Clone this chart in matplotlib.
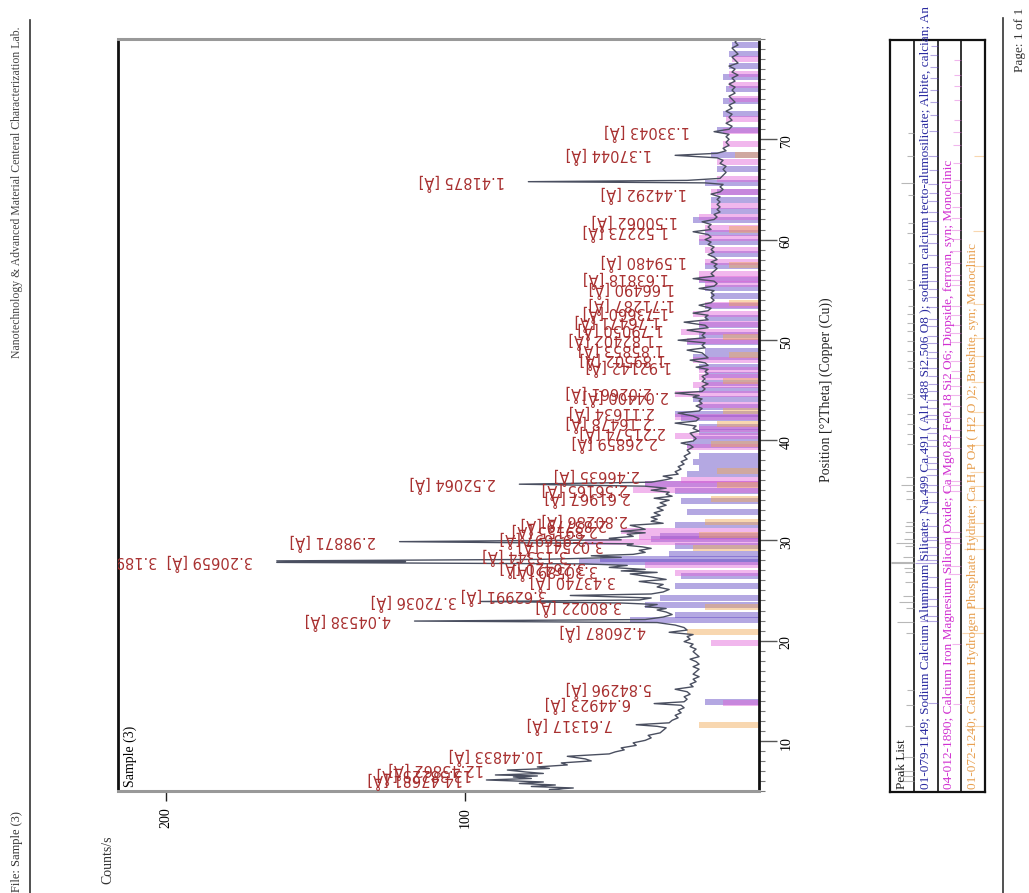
import matplotlib
matplotlib.use('Agg')
import matplotlib.pyplot as plt
from matplotlib.lines import Line2D
from matplotlib.ticker import MultipleLocator, FixedLocator

W, H = 1029, 893

# measured scan (2theta, counts)
scan_2theta = [
    5.00, 5.15, 5.30, 5.45, 5.60, 5.75, 5.90, 6.10, 6.25, 6.40, 6.50, 6.60, 6.75, 6.90, 7.09, 7.25,
    7.40, 7.60, 7.80, 8.00, 8.20, 8.46, 8.70, 8.90, 9.10, 9.30, 9.55, 9.80, 10.05, 10.30, 10.55, 10.80,
    11.05, 11.30, 11.45, 11.61, 11.80, 12.05, 12.30, 12.55, 12.80, 13.05, 13.30, 13.55, 13.72, 13.90,
    14.15, 14.40, 14.65, 14.90, 15.15, 15.40, 15.65, 15.90, 16.15, 16.40, 16.65, 16.90, 17.15, 17.40,
    17.65, 17.90, 18.15, 18.40, 18.65, 18.90, 19.15, 19.40, 19.65, 19.90, 20.15, 20.40, 20.60, 20.83,
    21.05, 21.30, 21.55, 21.80, 21.95, 22.10, 22.35, 22.60, 22.85, 23.05, 23.20, 23.39, 23.60, 23.75,
    23.90, 24.05, 24.25, 24.50, 24.65, 24.85, 25.10, 25.35, 25.60, 25.90, 26.10, 26.35, 26.65, 26.80,
    26.95, 27.10, 27.30, 27.50, 27.65, 27.80, 27.88, 27.95, 28.10, 28.30, 28.46, 28.60, 28.80, 29.00,
    29.20, 29.35, 29.50, 29.65, 29.87, 30.05, 30.20, 30.40, 30.60, 30.75, 30.90, 31.10, 31.30, 31.50,
    31.70, 31.90, 32.10, 32.30, 32.50, 32.75, 33.00, 33.25, 33.50, 33.75, 34.00, 34.20, 34.40, 34.60,
    34.80, 35.00, 35.20, 35.40, 35.60, 35.80, 36.05, 36.20, 36.40, 36.60, 36.85, 37.10, 37.35, 37.60,
    37.85, 38.10, 38.40, 38.70, 39.00, 39.30, 39.50, 39.70, 39.90, 40.15, 40.40, 40.69, 40.90, 41.15,
    41.40, 41.69, 41.90, 42.15, 42.40, 42.69, 42.90, 43.15, 43.40, 43.65, 43.90, 44.10, 44.28, 44.45,
    44.68, 44.85, 45.10, 45.35, 45.60, 45.85, 46.10, 46.35, 46.60, 46.85, 47.05, 47.27, 47.45, 47.70,
    47.97, 48.20, 48.45, 48.70, 48.97, 49.20, 49.45, 49.70, 49.96, 50.20, 50.45, 50.70, 50.96, 51.20,
    51.45, 51.76, 52.00, 52.25, 52.45, 52.66, 52.90, 53.15, 53.45, 53.70, 53.95, 54.20, 54.45, 54.70,
    54.90, 55.12, 55.35, 55.60, 55.85, 56.10, 56.35, 56.60, 56.85, 57.10, 57.35, 57.55, 57.76, 58.00,
    58.25, 58.50, 58.75, 59.00, 59.25, 59.50, 59.75, 60.00, 60.25, 60.50, 60.78, 61.00, 61.25, 61.50,
    61.77, 62.00, 62.25, 62.50, 62.75, 63.00, 63.25, 63.50, 63.75, 64.00, 64.25, 64.53, 64.75, 65.00,
    65.25, 65.50, 65.65, 65.77, 65.90, 66.10, 66.40, 66.70, 67.00, 67.30, 67.60, 67.90, 68.15, 68.40,
    68.60, 68.85, 69.10, 69.40, 69.70, 70.00, 70.25, 70.50, 70.76, 71.00, 71.30, 71.60, 71.90, 72.20,
    72.50, 72.80, 73.10, 73.40, 73.70, 74.00, 74.30, 74.60, 74.90, 75.20, 75.50, 75.80, 76.10, 76.40,
    76.70, 77.00, 77.30, 77.60, 77.90, 78.20, 78.50, 78.80, 79.10, 79.40, 79.70, 80.00,
]
scan_counts = [
    66, 72, 64, 78, 70, 82, 74, 93, 78, 84, 76, 90, 74, 80, 86, 72,
    76, 66, 68, 58, 60, 66, 52, 50, 47, 48, 43, 44, 40, 38, 39, 35,
    34, 33, 36, 43, 32, 31, 29, 30, 28, 29, 27, 28, 37, 27,
    26, 27, 25, 26, 30, 24, 25, 23, 24, 22, 24, 23, 22, 24,
    22, 23, 25, 22, 23, 24, 23, 25, 24, 27, 25, 26, 24, 32,
    26, 27, 30, 36, 117, 40, 34, 31, 33, 36, 33, 40, 36, 48,
    95, 42, 38, 65, 38, 34, 32, 36, 34, 42, 33, 38, 45, 36,
    48, 40, 52, 46, 60, 163, 120, 163, 75, 48, 58, 44, 40, 42,
    38, 41, 46, 44, 122, 48, 52, 44, 46, 40, 48, 40, 42, 45,
    34, 38, 36, 38, 35, 37, 34, 36, 33, 35, 32, 37, 31, 33,
    32, 38, 33, 40, 82, 38, 33, 31, 34, 29, 30, 28, 29, 27,
    28, 26, 27, 25, 26, 24, 25, 28, 24, 23, 24, 25, 22, 24,
    23, 30, 23, 22, 24, 29, 22, 21, 23, 21, 22, 21, 24, 22,
    30, 21, 20, 21, 19, 21, 20, 21, 19, 20, 19, 23, 19, 20,
    25, 19, 20, 21, 26, 20, 21, 20, 29, 20, 21, 20, 26, 19,
    20, 27, 19, 20, 19, 24, 19, 18, 22, 18, 17, 18, 17, 18,
    17, 22, 17, 16, 17, 24, 17, 18, 17, 16, 17, 16, 18, 16,
    17, 19, 17, 18, 17, 19, 18, 20, 18, 19, 24, 18, 19, 18,
    21, 17, 16, 17, 15, 16, 15, 16, 15, 16, 15, 18, 15, 14,
    15, 14, 20, 79, 26, 15, 14, 13, 14, 13, 15, 14, 16, 30,
    16, 13, 14, 12, 13, 12, 13, 12, 17, 12, 11, 13, 11, 12,
    11, 13, 11, 12, 10, 11, 12, 10, 11, 10, 12, 10, 11, 9,
    11, 10, 12, 9, 10, 11, 9, 10, 11, 9, 10, 9,
]

# labelled peaks: position, peak top, d-spacing label
peak_2theta = [6.10, 6.60, 7.09, 8.46, 11.61, 13.72, 15.15, 20.83, 21.95, 23.39, 23.90, 24.50,
               25.90, 26.95, 27.30, 27.80, 27.95, 28.46, 29.50, 29.87, 30.20, 30.90, 31.50, 31.90,
               34.20, 35.00, 35.60, 36.40, 39.70, 40.69, 41.69, 42.69, 44.28, 44.68, 47.27, 47.97,
               48.97, 49.96, 50.96, 51.76, 52.66, 53.45, 55.12, 56.10, 57.76, 60.78, 61.77, 64.53,
               65.77, 68.40, 70.76]
peak_counts = [93, 90, 86, 66, 43, 37, 30, 32, 117, 40, 95, 65,
               42, 48, 52, 163, 163, 58, 46, 122, 52, 48, 45, 38,
               37, 38, 82, 34, 28, 25, 30, 29, 24, 30, 23, 25,
               26, 29, 26, 27, 24, 22, 22, 24, 18, 24, 21, 18,
               79, 30, 17]
peak_labels = ['14.47681', '13.38225', '12.45862', '10.44833', '7.61317', '6.44923', '5.84296',
               '4.26087', '4.04538', '3.80022', '3.72036', '3.62991', '3.43740', '3.30589',
               '3.26420', '3.20659', '3.18963', '3.13344', '3.02541', '2.98871', '2.95697',
               '2.89155', '2.83779', '2.80286', '2.61967', '2.56165', '2.52064', '2.46635',
               '2.26859', '2.21574', '2.16478', '2.11634', '2.04400', '2.02661', '1.92142',
               '1.89502', '1.85853', '1.82402', '1.79050', '1.76471', '1.73660', '1.71287',
               '1.66490', '1.63818', '1.59480', '1.52273', '1.50062', '1.44292', '1.41875',
               '1.37044', '1.33043']

# reference patterns
albite_2theta = [13.88, 22.04, 22.60, 23.58, 24.28, 25.42, 26.40, 27.88, 28.10, 28.62,
                 29.44, 30.14, 30.44, 31.50, 32.80, 33.90, 34.94, 35.60, 36.62, 37.20,
                 37.80, 38.40, 39.52, 40.10, 40.80, 41.30, 42.20, 42.62, 43.30, 44.10,
                 45.00, 45.70, 46.50, 47.30, 48.30, 48.90, 49.80, 50.50, 51.50, 52.20,
                 53.40, 54.40, 55.20, 56.00, 57.40, 58.60, 59.80, 60.70, 61.90, 62.80,
                 63.90, 64.70, 65.60, 67.00, 68.40, 70.90, 72.50, 73.80, 75.00, 76.20,
                 77.30, 78.50, 79.40]
albite_counts = [20, 45, 30, 40, 35, 30, 28, 62, 55, 32,
                 30, 38, 35, 30, 26, 28, 30, 40, 26, 22,
                 24, 22, 26, 24, 22, 22, 28, 30, 22, 24,
                 22, 20, 20, 22, 24, 20, 26, 22, 22, 20,
                 20, 18, 20, 22, 20, 18, 22, 20, 24, 18,
                 18, 16, 20, 16, 18, 16, 14, 14, 13, 14,
                 12, 12, 11]
diopside_2theta = [13.80, 19.80, 26.70, 27.50, 29.86, 30.30, 30.90, 35.00, 35.60, 36.00,
                   39.30, 40.40, 41.10, 42.30, 43.50, 44.60, 45.50, 46.30, 47.00, 48.00,
                   49.90, 50.80, 51.60, 52.60, 53.50, 55.60, 56.10, 56.60, 57.80, 59.00,
                   60.20, 61.10, 62.20, 63.30, 64.70, 66.00, 67.70, 69.50, 70.80, 72.00,
                   74.00, 75.40, 76.50, 78.00]
diopside_counts = [14, 18, 30, 40, 60, 42, 48, 44, 40, 28,
                   26, 30, 22, 30, 22, 30, 24, 22, 22, 24,
                   26, 28, 22, 24, 20, 20, 22, 22, 20, 20,
                   22, 20, 22, 18, 18, 16, 16, 14, 14, 13,
                   12, 12, 12, 11]
brushite_2theta = [11.60, 20.90, 23.40, 29.26, 30.50, 31.80, 34.10, 35.50, 36.90, 39.60, 41.60, 42.90,
                   45.90, 48.50, 50.30, 53.70, 57.50, 61.00, 68.40]
brushite_counts = [22, 26, 20, 24, 22, 20, 18, 16, 16, 18, 16, 14,
                   14, 12, 14, 12, 12, 12, 10]

row_texts = [
    'Peak List',
    '01-079-1149; Sodium Calcium Aluminum Silicate; Na.499 Ca.491 ( Al1.488 Si2.506 O8 ); '
    'sodium calcium tecto-alumosilicate; Albite, calcian; An',
    '04-012-1890; Calcium Iron Magnesium Silicon Oxide; Ca Mg0.82 Fe0.18 Si2 O6; Diopside, ferroan, syn; Monoclinic',
    '01-072-1240; Calcium Hydrogen Phosphate Hydrate; Ca H P O4 ( H2 O )2; Brushite, syn; Monoclinic',
]
row_colors = ['#222222', '#2a2aa0', '#d030d0', '#e8a050']
bar_colors = ['#5a3fc0', '#e060d8', '#f0a850']

SERIF = 'Liberation Serif'


def fx(px):
    return px / W


def fy(py):
    return 1 - py / H


fig = plt.figure(figsize=(W / 100, H / 100), dpi=100)

# main pattern axes (page is turned: counts run to the left, 2theta upward)
ax = fig.add_axes([fx(118), fy(791), (759 - 118) / W, (791 - 39) / H])
ax.set_xlim(216, 2)
ax.set_ylim(5, 80)

phases = [(albite_2theta, albite_counts), (diopside_2theta, diopside_counts),
          (brushite_2theta, brushite_counts)]
for (pos, cnt), col in zip(phases, bar_colors):
    ax.barh(pos, cnt, height=0.6, left=0, color=col, alpha=0.45, linewidth=0, zorder=1)

ax.plot(scan_counts, scan_2theta, color='#4a4f60', lw=1.0, zorder=2)

# group labels of peaks that sit on top of each other
groups = []
for pos, cnt, lab in zip(peak_2theta, peak_counts, peak_labels):
    if groups and pos - groups[-1][0][-1] < 0.2:
        groups[-1][0].append(pos)
        groups[-1][1] = max(groups[-1][1], cnt)
        groups[-1][2].append(lab + ' [Å]')
    else:
        groups.append([[pos], cnt, [lab + ' [Å]']])

for pos_list, cnt, labs in groups:
    ax.annotate('  '.join(labs), xy=(cnt, sum(pos_list) / len(pos_list)),
                xytext=(-17, 0), textcoords='offset points',
                rotation=180, rotation_mode='anchor', ha='left', va='center',
                color='#a83030', fontsize=10.5, family='DejaVu Sans',
                annotation_clip=False, clip_on=True, zorder=3)

ax.yaxis.tick_right()
ax.yaxis.set_major_locator(FixedLocator([10, 20, 30, 40, 50, 60, 70]))
ax.yaxis.set_minor_locator(MultipleLocator(1))
ax.tick_params(axis='y', which='major', length=13, width=1, color='#555555', pad=2,
               labelrotation=90, labelsize=10)
ax.tick_params(axis='y', which='minor', length=4, width=0.8, color='#777777')
ax.xaxis.set_major_locator(FixedLocator([100, 200]))
ax.tick_params(axis='x', which='major', length=7, width=1, color='#222222', pad=5,
               labelrotation=90, labelsize=10)
for lab in ax.get_xticklabels() + ax.get_yticklabels():
    lab.set_family(SERIF)

for side in ['left', 'right']:
    ax.spines[side].set_color('#111111')
    ax.spines[side].set_linewidth(2.0)
for side in ['top', 'bottom']:
    ax.spines[side].set_color('#999999')
    ax.spines[side].set_linewidth(2.2)

ax.text(0.008, 0.005, 'Sample (3)', transform=ax.transAxes, rotation=90,
        ha='left', va='bottom', fontsize=10, family=SERIF)

# peak list panel
px = fig.add_axes([fx(890), fy(792), (985 - 890) / W, (792 - 40) / H])
px.set_xlim(0, 4)
px.set_ylim(5, 80)
px.set_xticks([])
px.set_yticks([])
for sp in px.spines.values():
    sp.set_color('#111111')
    sp.set_linewidth(1.6)
for k in [1, 2, 3]:
    px.axvline(k, color='#111111', lw=1.2)

top = max(peak_counts)
for pos, cnt in zip(peak_2theta, peak_counts):
    frac = 0.15 + 0.8 * cnt / top
    px.hlines(pos, 1 - frac, 1, color='#9a9a9a', lw=0.8, alpha=0.7)
for k, ((pos_l, cnt_l), col) in enumerate(zip(phases, bar_colors), start=1):
    mx = max(cnt_l)
    for pos, cnt in zip(pos_l, cnt_l):
        frac = 0.15 + 0.8 * cnt / mx
        px.hlines(pos, k + 1 - frac, k + 1, color=col, lw=0.8, alpha=0.45)

for k, (txt, col) in enumerate(zip(row_texts, row_colors)):
    px.text(k + 0.5, 0.004, txt, transform=px.get_xaxis_transform(), rotation=90,
            rotation_mode='anchor', ha='left', va='center', color=col,
            fontsize=9.5, family=SERIF, clip_on=False)

# page furniture
fig.text(fx(17), fy(192), 'Nanotechnology & Advanced Material Centeral Characterization Lab.',
         rotation=90, ha='center', va='center', fontsize=8.5, family=SERIF, color='#444444')
fig.text(fx(17), fy(852), 'File: Sample (3)', rotation=90, ha='center', va='center',
         fontsize=9, family=SERIF, color='#333333')
fig.text(fx(108), fy(860), 'Counts/s', rotation=90, ha='center', va='center',
         fontsize=10, family=SERIF, color='#333333')
fig.text(fx(826), fy(390), 'Position [°2Theta] (Copper (Cu))', rotation=90, ha='center',
         va='center', fontsize=10, family=SERIF, color='#222222')
fig.text(fx(1020), fy(40), 'Page: 1 of 1', rotation=90, ha='center', va='center',
         fontsize=9.5, family=SERIF, color='#333333')
fig.add_artist(Line2D([fx(30), fx(30)], [fy(20), fy(893)], color='#333333', lw=1.2))
fig.add_artist(Line2D([fx(1003), fx(1003)], [fy(18), fy(893)], color='#333333', lw=1.2))

fig.savefig('out.png', dpi=100)
